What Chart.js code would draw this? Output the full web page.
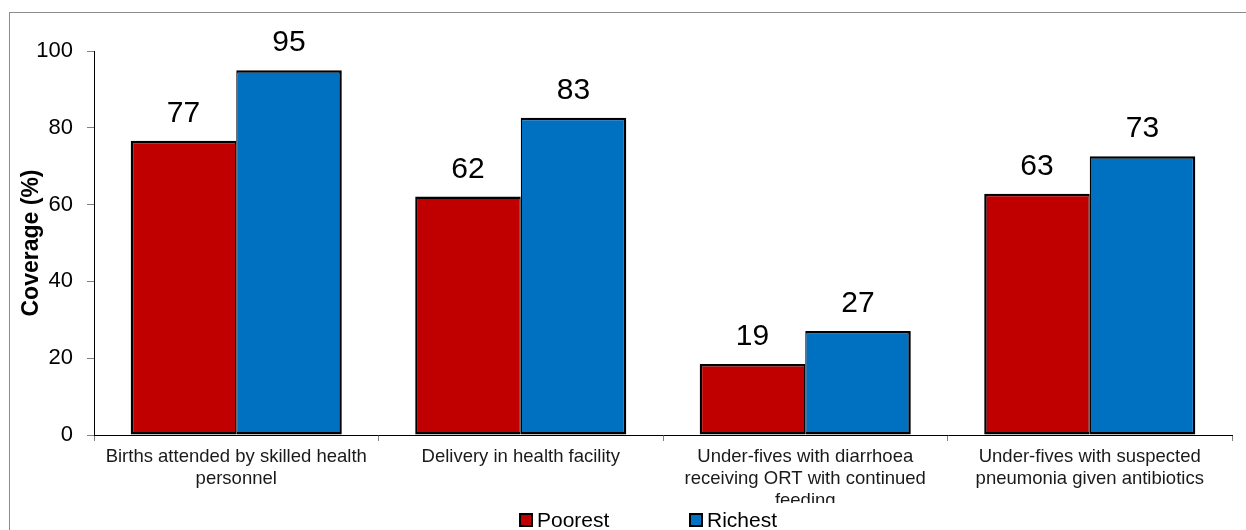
<!DOCTYPE html>
<html>
<head>
<meta charset="utf-8">
<script src="https://cdn.jsdelivr.net/npm/chart.js@4"></script>
<style>
    html, body { margin: 0; padding: 0; background: #fff; }
    #wrap { width: 1246px; height: 530px; position: relative; }
</style>
</head>
<body>
<div id="wrap"><canvas id="coverageChart" width="1246" height="530"></canvas></div>
<script>
const categories = [
    ['Births attended by skilled health', 'personnel'],
    'Delivery in health facility',
    ['Under-fives with diarrhoea', 'receiving ORT with continued', 'feeding'],
    ['Under-fives with suspected', 'pneumonia given antibiotics']
];
const poorest = [76.6, 62.1, 18.5, 62.8];
const richest = [95.0, 82.6, 27.1, 72.6];
const yTicks = [0, 20, 40, 60, 80, 100];

const FONT = 'Arial, "Liberation Sans", sans-serif';

// frame round the whole chart, like the original export
const framePlugin = {
    id: 'frame',
    beforeDraw: (chart) => {
        const ctx = chart.ctx;
        ctx.save();
        ctx.fillStyle = '#fff';
        ctx.fillRect(0, 0, chart.width, chart.height);
        ctx.strokeStyle = '#8c8c8c';
        ctx.lineWidth = 1;
        ctx.strokeRect(9.5, 12.5, chart.width + 20, chart.height + 20);
        ctx.restore();
    }
};

// value labels above the bars
const valueLabels = {
    id: 'valueLabels',
    afterDatasetsDraw: (chart) => {
        const ctx = chart.ctx;
        ctx.save();
        ctx.font = `30px ${FONT}`;
        ctx.fillStyle = '#000';
        ctx.textAlign = 'center';
        ctx.textBaseline = 'alphabetic';
        chart.data.datasets.forEach((ds, i) => {
            chart.getDatasetMeta(i).data.forEach((bar, j) => {
                ctx.fillText(Math.round(ds.data[j]), bar.x, bar.y - 19);
            });
        });
        ctx.restore();
    }
};

// legend drawn by hand so the spacing matches; also cuts the last tick line short
const bottomLegend = {
    id: 'bottomLegend',
    afterDraw: (chart) => {
        const ctx = chart.ctx;
        ctx.save();
        ctx.fillStyle = '#fff';
        ctx.fillRect(chart.chartArea.left + 1, 503, chart.chartArea.width, 10);
        ctx.font = `21px ${FONT}`;
        ctx.textBaseline = 'alphabetic';
        ctx.textAlign = 'left';
        let x = 520;
        chart.data.datasets.forEach((ds) => {
            ctx.fillStyle = ds.backgroundColor;
            ctx.fillRect(x, 514, 12, 12);
            ctx.strokeStyle = '#000';
            ctx.lineWidth = 2;
            ctx.strokeRect(x, 514, 12, 12);
            ctx.fillStyle = '#000';
            ctx.fillText(ds.label, x + 17, 527);
            x += 170;
        });
        ctx.restore();
    }
};

new Chart(document.getElementById('coverageChart'), {
    type: 'bar',
    data: {
        labels: categories,
        datasets: [
            {
                label: 'Poorest',
                data: poorest,
                backgroundColor: '#C00000',
                borderColor: '#000',
                borderWidth: { top: 2.5, bottom: 2.5, left: 2.5, right: 1.25 },
                borderSkipped: false
            },
            {
                label: 'Richest',
                data: richest,
                backgroundColor: '#0070C0',
                borderColor: '#000',
                borderWidth: { top: 2.5, bottom: 2.5, left: 1.25, right: 2.5 },
                borderSkipped: false
            }
        ]
    },
    options: {
        responsive: false,
        animation: false,
        devicePixelRatio: 1,
        categoryPercentage: 0.742,
        barPercentage: 1,
        layout: { padding: { top: 51, right: 14, left: 0, bottom: 0 } },
        plugins: {
            legend: { display: false },
            tooltip: { enabled: false }
        },
        scales: {
            x: {
                afterFit: (scale) => { scale.height = 95; },
                grid: {
                    offset: true,
                    drawOnChartArea: false,
                    tickLength: 6,
                    tickColor: '#808080'
                },
                border: { color: '#000', width: 1 },
                ticks: {
                    color: '#1a1a1a',
                    padding: 5,
                    maxRotation: 0,
                    autoSkip: false,
                    font: { family: FONT, size: 18.5, lineHeight: 1.19 }
                }
            },
            y: {
                min: 0,
                max: 100,
                afterFit: (scale) => { scale.width = 94; },
                afterBuildTicks: (scale) => {
                    scale.ticks = yTicks.map((v) => ({ value: v }));
                },
                grid: {
                    drawOnChartArea: false,
                    tickLength: 7,
                    tickColor: '#808080'
                },
                border: { color: '#000', width: 1 },
                ticks: {
                    color: '#000',
                    padding: 14,
                    font: { family: FONT, size: 22 }
                },
                title: {
                    display: true,
                    text: 'Coverage (%)',
                    color: '#000',
                    padding: { top: 18, bottom: 0 },
                    font: { family: FONT, size: 23, weight: 'bold' }
                }
            }
        }
    },
    plugins: [framePlugin, valueLabels, bottomLegend]
});
</script>
</body>
</html>
